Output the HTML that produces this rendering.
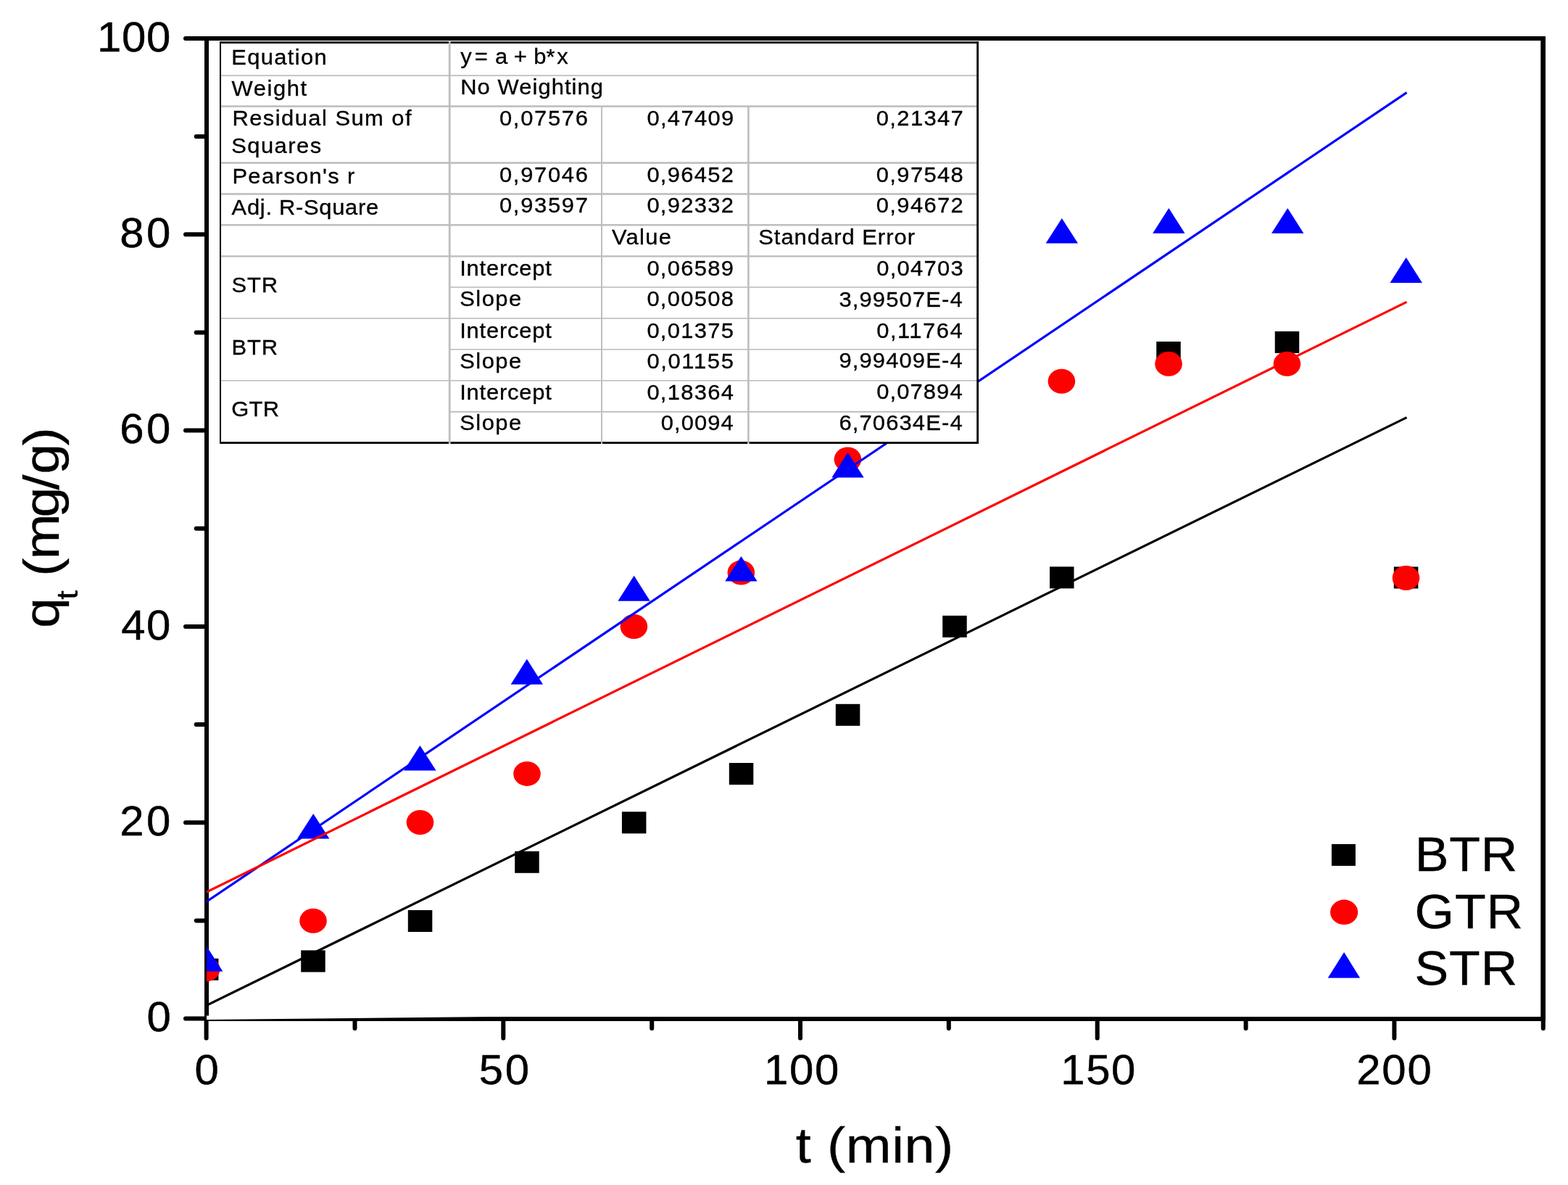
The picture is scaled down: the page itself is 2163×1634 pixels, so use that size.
<!DOCTYPE html>
<html><head><meta charset="utf-8"><title>q_t vs t</title>
<style>html,body{margin:0;padding:0;background:#fff;overflow:hidden}svg{display:block}</style></head>
<body>
<svg width="2163" height="1634" viewBox="0 0 2163 1634" font-family="'Liberation Sans', Arial, sans-serif">
<rect width="2163" height="1634" fill="#fff"/>
<defs><clipPath id="pc"><rect x="285" y="53" width="1843" height="1352"/></clipPath></defs>
<g fill="#000"><rect x="282" y="50" width="6" height="1358"/><rect x="282" y="50" width="1850" height="6"/><rect x="2125.3" y="50" width="6.7" height="1358"/><rect x="282" y="1402" width="1850" height="6"/></g>
<path d="M256.0 1404.6H285M270.7 1269.4H285M256.0 1134.3H285M270.7 999.1H285M256.0 864.0H285M270.7 728.8H285M256.0 593.6H285M270.7 458.5H285M256.0 323.3H285M270.7 188.2H285M256.0 53.0H285M284.6 1405V1431.5M489.5 1405V1418.0M694.3 1405V1431.5M899.2 1405V1418.0M1104.0 1405V1431.5M1308.8 1405V1418.0M1513.7 1405V1431.5M1718.6 1405V1418.0M1923.4 1405V1431.5M2128.8 1405V1418.0" stroke="#000" stroke-width="6" stroke-linecap="round" fill="none"/>
<path d="M285 1400.6H288V1402H677L288 1406H285Z" fill="#fff"/>
<g clip-path="url(#pc)">
<g fill="#000"><rect x="267.9" y="1321.7" width="33.5" height="30.0"/><rect x="415.2" y="1310.4" width="33.5" height="30.0"/><rect x="562.8" y="1255.0" width="33.5" height="30.0"/><rect x="710.2" y="1173.8" width="33.5" height="30.0"/><rect x="857.9" y="1119.3" width="33.5" height="30.0"/><rect x="1005.8" y="1052.0" width="33.5" height="30.0"/><rect x="1152.8" y="970.8" width="33.5" height="30.0"/><rect x="1300.2" y="848.9" width="33.5" height="30.0"/><rect x="1448.0" y="781.4" width="33.5" height="30.0"/><rect x="1595.2" y="471.0" width="33.5" height="30.0"/><rect x="1758.7" y="456.9" width="33.5" height="30.0"/><rect x="1922.8" y="781.5" width="33.5" height="30.0"/></g>
<g fill="#ff0000"><ellipse cx="284.6" cy="1336.4" rx="18.8" ry="17.0"/><ellipse cx="432.0" cy="1269.7" rx="18.8" ry="17.0"/><ellipse cx="579.5" cy="1134.0" rx="18.8" ry="17.0"/><ellipse cx="727.0" cy="1066.9" rx="18.8" ry="17.0"/><ellipse cx="874.4" cy="864.0" rx="18.8" ry="17.0"/><ellipse cx="1022.3" cy="789.6" rx="18.8" ry="17.0"/><ellipse cx="1169.4" cy="633.4" rx="18.8" ry="17.0"/><ellipse cx="1464.4" cy="525.8" rx="18.8" ry="17.0"/><ellipse cx="1612.0" cy="501.7" rx="18.8" ry="17.0"/><ellipse cx="1775.4" cy="501.7" rx="18.8" ry="17.0"/><ellipse cx="1939.5" cy="797.0" rx="18.8" ry="17.0"/></g>
<g fill="#0000ff"><path d="M285.2 1305.0L307.4 1339.6L263.0 1339.6Z"/><path d="M432.2 1121.9L454.4 1156.6L410.0 1156.6Z"/><path d="M579.4 1028.1L601.6 1062.5L557.2 1062.5Z"/><path d="M726.8 908.8L749.0 943.8L704.6 943.8Z"/><path d="M874.6 793.7L896.8 828.7L852.4 828.7Z"/><path d="M1022.4 766.9L1044.6 801.6L1000.2 801.6Z"/><path d="M1169.5 623.9L1191.7 658.6L1147.3 658.6Z"/><path d="M1464.8 301.1L1487.0 335.6L1442.6 335.6Z"/><path d="M1612.3 287.0L1634.5 321.8L1590.1 321.8Z"/><path d="M1776.2 287.0L1798.4 321.8L1754.0 321.8Z"/><path d="M1939.7 355.0L1961.9 389.9L1917.5 389.9Z"/></g>
<line x1="285.0" y1="1243.2" x2="1940.5" y2="127.6" stroke="#0000ff" stroke-width="3.2" stroke-linecap="butt"/>
<line x1="285.0" y1="1230.0" x2="1940.5" y2="416.4" stroke="#ff0000" stroke-width="3.2" stroke-linecap="butt"/>
<line x1="285.0" y1="1386.3" x2="1940.5" y2="575.6" stroke="#000000" stroke-width="3.2" stroke-linecap="butt"/>
</g>
<rect x="303" y="57" width="1047" height="555" fill="#fff"/>
<g fill="#bebebe"><rect x="303.0" y="103.3" width="1047.0" height="1.8"/><rect x="303.0" y="145.3" width="1047.0" height="2.6"/><rect x="303.0" y="223.3" width="1047.0" height="2.6"/><rect x="303.0" y="266.2" width="1047.0" height="2.6"/><rect x="303.0" y="308.9" width="1047.0" height="2.6"/><rect x="303.0" y="352.2" width="1047.0" height="2.4"/><rect x="620.2" y="395.2" width="729.8" height="1.6"/><rect x="303.0" y="438.2" width="1047.0" height="1.6"/><rect x="620.2" y="481.0" width="729.8" height="1.6"/><rect x="303.0" y="524.0" width="1047.0" height="1.6"/><rect x="620.2" y="566.8" width="729.8" height="2.0"/></g>
<g fill="#000"><rect x="303" y="57.2" width="1047" height="2.8"/><rect x="303" y="57.2" width="2" height="554.8"/><rect x="1347.2" y="57.2" width="2.8" height="554.8"/><rect x="303" y="609.2" width="1047" height="2.8"/></g>
<g fill="#bebebe"><rect x="618.8" y="57.0" width="2.8" height="555.0"/><rect x="829.0" y="146.6" width="2.0" height="465.4"/><rect x="1031.1" y="146.6" width="2.6" height="465.4"/></g>
<g fill="#000" stroke="#000">
<text transform="translate(319.20 88.90) scale(1.080 1)" font-size="28.60" stroke-width="0.32" textLength="121.67" lengthAdjust="spacing">Equation</text>
<text transform="translate(319.60 132.10) scale(1.080 1)" font-size="28.60" stroke-width="0.32" textLength="95.74" lengthAdjust="spacing">Weight</text>
<text transform="translate(320.40 172.90) scale(1.080 1)" font-size="28.60" stroke-width="0.32" textLength="228.89" lengthAdjust="spacing">Residual Sum of</text>
<text transform="translate(319.20 210.90) scale(1.080 1)" font-size="28.60" stroke-width="0.32" textLength="114.81" lengthAdjust="spacing">Squares</text>
<text transform="translate(320.40 252.90) scale(1.080 1)" font-size="28.60" stroke-width="0.32" textLength="156.48" lengthAdjust="spacing">Pearson's r</text>
<text transform="translate(319.60 296.30) scale(1.080 1)" font-size="28.60" stroke-width="0.32" textLength="187.59" lengthAdjust="spacing">Adj. R-Square</text>
<text transform="translate(319.40 403.10) scale(1.080 1)" font-size="28.60" stroke-width="0.32" textLength="58.89" lengthAdjust="spacing">STR</text>
<text transform="translate(319.60 488.90) scale(1.080 1)" font-size="28.60" stroke-width="0.32" textLength="58.70" lengthAdjust="spacing">BTR</text>
<text transform="translate(319.20 573.70) scale(1.080 1)" font-size="28.60" stroke-width="0.32" textLength="60.93" lengthAdjust="spacing">GTR</text>
<text transform="translate(635.20 129.70) scale(1.080 1)" font-size="28.60" stroke-width="0.32" textLength="182.22" lengthAdjust="spacing">No Weighting</text>
<text transform="translate(689.00 173.20) scale(1.080 1)" font-size="28.60" stroke-width="0.32" textLength="112.78" lengthAdjust="spacing">0,07576</text>
<text transform="translate(892.40 172.70) scale(1.080 1)" font-size="28.60" stroke-width="0.32" textLength="110.93" lengthAdjust="spacing">0,47409</text>
<text transform="translate(1208.80 172.80) scale(1.080 1)" font-size="28.60" stroke-width="0.32" textLength="111.11" lengthAdjust="spacing">0,21347</text>
<text transform="translate(689.00 250.80) scale(1.080 1)" font-size="28.60" stroke-width="0.32" textLength="112.78" lengthAdjust="spacing">0,97046</text>
<text transform="translate(892.40 250.80) scale(1.080 1)" font-size="28.60" stroke-width="0.32" textLength="110.56" lengthAdjust="spacing">0,96452</text>
<text transform="translate(1208.80 250.60) scale(1.080 1)" font-size="28.60" stroke-width="0.32" textLength="111.11" lengthAdjust="spacing">0,97548</text>
<text transform="translate(689.00 293.40) scale(1.080 1)" font-size="28.60" stroke-width="0.32" textLength="112.78" lengthAdjust="spacing">0,93597</text>
<text transform="translate(892.40 293.40) scale(1.080 1)" font-size="28.60" stroke-width="0.32" textLength="110.56" lengthAdjust="spacing">0,92332</text>
<text transform="translate(1208.80 293.30) scale(1.080 1)" font-size="28.60" stroke-width="0.32" textLength="111.11" lengthAdjust="spacing">0,94672</text>
<text transform="translate(844.00 336.80) scale(1.080 1)" font-size="28.60" stroke-width="0.32" textLength="75.93" lengthAdjust="spacing">Value</text>
<text transform="translate(1046.20 336.80) scale(1.080 1)" font-size="28.60" stroke-width="0.32" textLength="199.81" lengthAdjust="spacing">Standard Error</text>
<text transform="translate(634.20 380.10) scale(1.080 1)" font-size="28.60" stroke-width="0.32" textLength="117.22" lengthAdjust="spacing">Intercept</text>
<text transform="translate(634.20 422.30) scale(1.080 1)" font-size="28.60" stroke-width="0.32" textLength="78.70" lengthAdjust="spacing">Slope</text>
<text transform="translate(634.20 465.60) scale(1.080 1)" font-size="28.60" stroke-width="0.32" textLength="117.22" lengthAdjust="spacing">Intercept</text>
<text transform="translate(634.20 507.80) scale(1.080 1)" font-size="28.60" stroke-width="0.32" textLength="78.70" lengthAdjust="spacing">Slope</text>
<text transform="translate(634.20 551.10) scale(1.080 1)" font-size="28.60" stroke-width="0.32" textLength="117.22" lengthAdjust="spacing">Intercept</text>
<text transform="translate(634.20 593.20) scale(1.080 1)" font-size="28.60" stroke-width="0.32" textLength="78.70" lengthAdjust="spacing">Slope</text>
<text transform="translate(892.40 380.10) scale(1.080 1)" font-size="28.60" stroke-width="0.32" textLength="110.56" lengthAdjust="spacing">0,06589</text>
<text transform="translate(892.40 422.30) scale(1.080 1)" font-size="28.60" stroke-width="0.32" textLength="110.56" lengthAdjust="spacing">0,00508</text>
<text transform="translate(892.40 465.60) scale(1.080 1)" font-size="28.60" stroke-width="0.32" textLength="110.56" lengthAdjust="spacing">0,01375</text>
<text transform="translate(892.40 507.80) scale(1.080 1)" font-size="28.60" stroke-width="0.32" textLength="110.56" lengthAdjust="spacing">0,01155</text>
<text transform="translate(892.40 551.10) scale(1.080 1)" font-size="28.60" stroke-width="0.32" textLength="110.56" lengthAdjust="spacing">0,18364</text>
<text transform="translate(911.80 593.20) scale(1.080 1)" font-size="28.60" stroke-width="0.32" textLength="92.59" lengthAdjust="spacing">0,0094</text>
<text transform="translate(1209.20 379.70) scale(1.080 1)" font-size="28.60" stroke-width="0.32" textLength="110.56" lengthAdjust="spacing">0,04703</text>
<text transform="translate(1157.40 422.50) scale(1.080 1)" font-size="28.60" stroke-width="0.32" textLength="157.59" lengthAdjust="spacing">3,99507E-4</text>
<text transform="translate(1209.20 465.50) scale(1.080 1)" font-size="28.60" stroke-width="0.32" textLength="109.63" lengthAdjust="spacing">0,11764</text>
<text transform="translate(1157.40 507.30) scale(1.080 1)" font-size="28.60" stroke-width="0.32" textLength="157.59" lengthAdjust="spacing">9,99409E-4</text>
<text transform="translate(1209.20 550.30) scale(1.080 1)" font-size="28.60" stroke-width="0.32" textLength="109.63" lengthAdjust="spacing">0,07894</text>
<text transform="translate(1157.40 593.20) scale(1.080 1)" font-size="28.60" stroke-width="0.32" textLength="157.59" lengthAdjust="spacing">6,70634E-4</text>
<text transform="translate(202.40 1422.20) scale(1.060 1)" font-size="56.50" stroke-width="0.47" textLength="28.11" lengthAdjust="spacing">0</text>
<text transform="translate(165.20 1151.88) scale(1.060 1)" font-size="56.50" stroke-width="0.47" textLength="66.04" lengthAdjust="spacing">20</text>
<text transform="translate(167.20 881.56) scale(1.060 1)" font-size="56.50" stroke-width="0.47" textLength="64.15" lengthAdjust="spacing">40</text>
<text transform="translate(165.20 611.24) scale(1.060 1)" font-size="56.50" stroke-width="0.47" textLength="66.04" lengthAdjust="spacing">60</text>
<text transform="translate(165.20 340.92) scale(1.060 1)" font-size="56.50" stroke-width="0.47" textLength="66.04" lengthAdjust="spacing">80</text>
<text transform="translate(134.00 70.60) scale(1.060 1)" font-size="56.50" stroke-width="0.47" textLength="95.47" lengthAdjust="spacing">100</text>
<text transform="translate(268.40 1494.70) scale(1.060 1)" font-size="56.50" stroke-width="0.47" textLength="29.62" lengthAdjust="spacing">0</text>
<text transform="translate(660.80 1494.70) scale(1.060 1)" font-size="56.50" stroke-width="0.47" textLength="65.28" lengthAdjust="spacing">50</text>
<text transform="translate(1054.00 1494.70) scale(1.060 1)" font-size="56.50" stroke-width="0.47" textLength="97.55" lengthAdjust="spacing">100</text>
<text transform="translate(1463.20 1494.70) scale(1.060 1)" font-size="56.50" stroke-width="0.47" textLength="97.36" lengthAdjust="spacing">150</text>
<text transform="translate(1871.20 1494.70) scale(1.060 1)" font-size="56.50" stroke-width="0.47" textLength="97.74" lengthAdjust="spacing">200</text>
<text transform="translate(1951.80 1200.70) scale(1.060 1)" font-size="66.00" stroke-width="0.38" textLength="133.40" lengthAdjust="spacing">BTR</text>
<text transform="translate(1951.60 1279.60) scale(1.060 1)" font-size="66.00" stroke-width="0.38" textLength="140.94" lengthAdjust="spacing">GTR</text>
<text transform="translate(1951.60 1357.90) scale(1.060 1)" font-size="66.00" stroke-width="0.38" textLength="133.58" lengthAdjust="spacing">STR</text>
<text transform="translate(1097.80 1602.80) scale(1.100 1)" font-size="68.50" stroke-width="0.36" textLength="197.64" lengthAdjust="spacing">t (min)</text>
<text transform="translate(0 87.6) scale(1.08 1)" font-size="28.60" stroke-width="0.32" x="588.26 602.56 606.20 622.90 632.40 648.30 656.29 672.99 681.77 697.69 711.25">y = a + b*x</text>
<text transform="translate(80.5 862.8) rotate(-90) scale(1.100 1)" font-size="68.5" stroke-width="0.36"><tspan x="-2.88" y="0">q</tspan><tspan font-size="41" x="32.74" y="26.5">t</tspan><tspan x="42.81 61.84 83.27 135.76 170.36 190.03 225.78" y="0"> (mg/g)</tspan></text>
</g>
<rect x="1836.9" y="1163.9" width="33" height="30" fill="#000"/>
<ellipse cx="1854.1" cy="1257.8" rx="19.1" ry="17.2" fill="#ff0000"/>
<path d="M1854.1 1313.1L1876.1 1348.6L1831.7 1348.6Z" fill="#0000ff"/>
</svg>
</body></html>
